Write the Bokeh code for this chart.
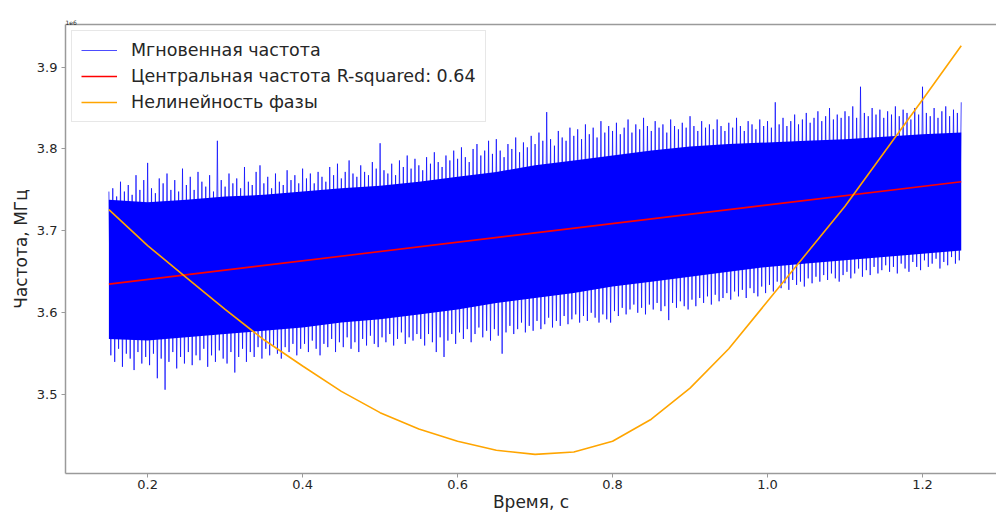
import numpy as np
from bokeh.plotting import figure
from bokeh.models import (Range1d, Legend, LegendItem, Title, FixedTicker,
                          PrintfTickFormatter, LinearAxis)
from bokeh.embed import file_html
from bokeh.resources import INLINE

# ---- data ----
# dense core of the instantaneous-frequency band
t_core = [0.15, 0.20, 0.25, 0.30, 0.35, 0.40, 0.45, 0.50, 0.55, 0.60, 0.65, 0.70,
          0.75, 0.80, 0.85, 0.90, 0.95, 1.00, 1.05, 1.10, 1.15, 1.20, 1.25]
core_upper = [3.738, 3.735, 3.738, 3.742, 3.744, 3.748, 3.752, 3.755, 3.760, 3.766, 3.772, 3.780,
              3.786, 3.792, 3.798, 3.803, 3.806, 3.808, 3.810, 3.812, 3.815, 3.818, 3.820]
core_lower = [3.568, 3.566, 3.570, 3.574, 3.578, 3.582, 3.588, 3.592, 3.598, 3.604, 3.612, 3.618,
              3.624, 3.632, 3.638, 3.644, 3.650, 3.656, 3.660, 3.664, 3.668, 3.672, 3.676]

# upward excursions of the instantaneous frequency (t = 0.150 ... 1.250, every 0.005 s)
freq_high = [
    3.748, 3.752, 3.742, 3.760, 3.748, 3.756, 3.744, 3.768, 3.750, 3.762,
    3.783, 3.752, 3.746, 3.764, 3.758, 3.770, 3.750, 3.762, 3.748, 3.776,
    3.756, 3.766, 3.750, 3.772, 3.760, 3.754, 3.768, 3.748, 3.810, 3.762,
    3.754, 3.770, 3.758, 3.764, 3.752, 3.778, 3.760, 3.756, 3.772, 3.780,
    3.758, 3.766, 3.752, 3.770, 3.760, 3.756, 3.774, 3.762, 3.768, 3.758,
    3.776, 3.764, 3.770, 3.758, 3.772, 3.766, 3.760, 3.778, 3.768, 3.782,
    3.764, 3.772, 3.786, 3.770, 3.766, 3.780, 3.772, 3.768, 3.784, 3.776,
    3.807, 3.774, 3.770, 3.782, 3.768, 3.786, 3.778, 3.792, 3.776, 3.788,
    3.780, 3.774, 3.790, 3.782, 3.796, 3.784, 3.778, 3.792, 3.786, 3.798,
    3.788, 3.802, 3.790, 3.784, 3.800, 3.806, 3.792, 3.798, 3.810, 3.794,
    3.812, 3.798, 3.790, 3.806, 3.800, 3.814, 3.796, 3.808, 3.802, 3.816,
    3.806, 3.820, 3.810, 3.845, 3.812, 3.804, 3.822, 3.814, 3.810, 3.826,
    3.816, 3.824, 3.812, 3.830, 3.818, 3.826, 3.814, 3.834, 3.820, 3.828,
    3.822, 3.832, 3.818, 3.826, 3.836, 3.820, 3.830, 3.824, 3.838, 3.828,
    3.822, 3.834, 3.826, 3.830, 3.820, 3.836, 3.828, 3.824, 3.832, 3.826,
    3.840, 3.828, 3.822, 3.834, 3.826, 3.830, 3.824, 3.836, 3.828, 3.822,
    3.832, 3.826, 3.838, 3.828, 3.822, 3.834, 3.830, 3.824, 3.836, 3.828,
    3.834, 3.826, 3.857, 3.830, 3.838, 3.828, 3.834, 3.842, 3.830, 3.836,
    3.844, 3.832, 3.838, 3.846, 3.834, 3.840, 3.850, 3.836, 3.842, 3.838,
    3.846, 3.840, 3.852, 3.838, 3.876, 3.844, 3.840, 3.850, 3.842, 3.848,
    3.838, 3.846, 3.842, 3.852, 3.840, 3.848, 3.844, 3.836, 3.850, 3.842,
    3.876, 3.844, 3.840, 3.850, 3.838, 3.846, 3.852, 3.840, 3.848, 3.844,
    3.857]
# downward excursions (t = 0.1525 ... 1.2475, every 0.005 s)
freq_low = [
    3.548, 3.540, 3.556, 3.534, 3.550, 3.544, 3.530, 3.552, 3.538, 3.546,
    3.536, 3.550, 3.520, 3.544, 3.506, 3.540, 3.552, 3.532, 3.546, 3.538,
    3.552, 3.536, 3.548, 3.542, 3.556, 3.534, 3.548, 3.540, 3.554, 3.544,
    3.538, 3.552, 3.527, 3.546, 3.556, 3.540, 3.552, 3.546, 3.558, 3.544,
    3.556, 3.548, 3.560, 3.550, 3.544, 3.558, 3.552, 3.562, 3.548, 3.556,
    3.562, 3.552, 3.566, 3.556, 3.548, 3.562, 3.558, 3.568, 3.552, 3.564,
    3.558, 3.570, 3.556, 3.564, 3.552, 3.568, 3.560, 3.572, 3.562, 3.558,
    3.570, 3.564, 3.574, 3.560, 3.568, 3.576, 3.562, 3.570, 3.566, 3.574,
    3.568, 3.560, 3.574, 3.564, 3.552, 3.570, 3.546, 3.566, 3.574, 3.562,
    3.576, 3.568, 3.580, 3.564, 3.574, 3.582, 3.570, 3.578, 3.566, 3.580,
    3.572, 3.550, 3.576, 3.584, 3.574, 3.580, 3.588, 3.576, 3.584, 3.578,
    3.590, 3.580, 3.586, 3.594, 3.582, 3.590, 3.584, 3.596, 3.586, 3.592,
    3.598, 3.588, 3.596, 3.590, 3.600, 3.594, 3.588, 3.598, 3.592, 3.588,
    3.602, 3.596, 3.606, 3.598, 3.604, 3.610, 3.600, 3.606, 3.598, 3.610,
    3.604, 3.612, 3.602, 3.608, 3.591, 3.612, 3.606, 3.614, 3.608, 3.604,
    3.616, 3.608, 3.618, 3.612, 3.620, 3.610, 3.622, 3.614, 3.618, 3.624,
    3.616, 3.626, 3.620, 3.628, 3.618, 3.630, 3.624, 3.620, 3.632, 3.624,
    3.634, 3.626, 3.638, 3.630, 3.636, 3.628, 3.640, 3.634, 3.638, 3.632,
    3.642, 3.636, 3.644, 3.638, 3.646, 3.640, 3.648, 3.642, 3.638, 3.646,
    3.650, 3.642, 3.648, 3.654, 3.644, 3.652, 3.646, 3.656, 3.648, 3.652,
    3.658, 3.650, 3.656, 3.648, 3.660, 3.654, 3.650, 3.662, 3.656, 3.652,
    3.664, 3.656, 3.660, 3.666, 3.654, 3.662, 3.658, 3.668, 3.660, 3.664]

# linear fit (central frequency)
t_fit = [0.15, 1.25]
freq_fit = [3.635, 3.760]

# phase nonlinearity
t_phase = [0.15, 0.20, 0.25, 0.30, 0.35, 0.40, 0.45, 0.50, 0.55, 0.60, 0.65, 0.70,
           0.75, 0.80, 0.85, 0.90, 0.95, 1.00, 1.05, 1.10, 1.15, 1.20, 1.25]
phase_nl = [3.726, 3.682, 3.643, 3.604, 3.567, 3.535, 3.504, 3.478, 3.458, 3.443, 3.432, 3.427,
            3.430, 3.443, 3.470, 3.508, 3.556, 3.614, 3.672, 3.730, 3.795, 3.860, 3.926]

x_ticks = [0.2, 0.4, 0.6, 0.8, 1.0, 1.2]
y_ticks = [3.5, 3.6, 3.7, 3.8, 3.9]

legend_labels = ["Мгновенная частота", "Центральная частота R-squared: 0.64", "Нелинейность фазы"]

FONT = "DejaVu Sans"
TXT = "#262626"
SPINE = "#9a9a9a"

# ---- figure ----
p = figure(width=996, height=514, output_backend="svg", toolbar_location=None,
           x_range=Range1d(0.094, 1.2955), y_range=Range1d(3.4037, 3.952),
           min_border_left=65, min_border_right=0, min_border_top=24, min_border_bottom=38,
           background_fill_color="white", border_fill_color="white")
p.grid.visible = False
p.outline_line_color = None

xax = p.below[0]
yax = p.left[0]

# interleave the high/low excursions into one noisy trace
t_high = np.linspace(t_core[0], t_core[-1], len(freq_high))
t_low = t_high[:-1] + 0.0025
n = min(len(freq_high), len(freq_low))
t_trace, f_trace = [], []
for i in range(n):
    t_trace += [t_high[i], t_low[i]]
    f_trace += [freq_high[i], freq_low[i]]
for i in range(n, len(freq_high)):
    t_trace.append(t_high[i])
    f_trace.append(freq_high[i])

p.varea(x=t_core, y1=core_lower, y2=core_upper, fill_color="blue", fill_alpha=1.0)
r_blue = p.line(t_trace, f_trace, line_color="blue", line_width=1, line_alpha=0.7)
r_red = p.line(t_fit, freq_fit, line_color="red", line_width=1.6)
r_orange = p.line(t_phase, phase_nl, line_color="orange", line_width=1.6)

# axes
for ax in (xax, yax):
    ax.axis_line_color = SPINE
    ax.axis_line_width = 1.5
    ax.major_tick_line_color = SPINE
    ax.major_tick_out = 4
    ax.major_tick_in = 0
    ax.minor_tick_line_color = None
    ax.major_label_text_font = FONT
    ax.major_label_text_font_size = "13px"
    ax.major_label_text_color = TXT
    ax.axis_label_text_font = FONT
    ax.axis_label_text_font_style = "normal"
    ax.axis_label_text_font_size = "17px"
    ax.axis_label_text_color = TXT
    ax.formatter = PrintfTickFormatter(format="%.1f")

xax.ticker = FixedTicker(ticks=x_ticks)
yax.ticker = FixedTicker(ticks=y_ticks)
xax.major_label_standoff = 2
xax.axis_label = "Время, с"
xax.axis_label_standoff = 0
yax.major_label_standoff = 4
yax.axis_label = "Частота, МГц"
yax.axis_label_standoff = 3

# top spine (the right spine lies beyond the picture's edge in the reference)
top_axis = LinearAxis(ticker=FixedTicker(ticks=[]), axis_line_color=SPINE, axis_line_width=1.5,
                      major_tick_line_color=None, minor_tick_line_color=None,
                      major_label_text_font_size="0px", major_tick_out=0, major_tick_in=0,
                      major_label_standoff=0)
p.add_layout(top_axis, "above")

# offset text at top-left corner
p.add_layout(Title(text="1e6", align="left", text_font=FONT, text_font_size="6px",
                   text_color=TXT, text_font_style="normal", standoff=0), "above")

legend = Legend(items=[LegendItem(label=legend_labels[0], renderers=[r_blue]),
                       LegendItem(label=legend_labels[1], renderers=[r_red]),
                       LegendItem(label=legend_labels[2], renderers=[r_orange])],
                location="top_left")
legend.margin = 6
legend.padding = 9
legend.spacing = 6
legend.glyph_width = 36
legend.glyph_height = 20
legend.label_height = 20
legend.label_standoff = 14
legend.label_text_font = FONT
legend.label_text_font_size = "17.5px"
legend.label_text_color = TXT
legend.border_line_color = "#d0d0d0"
legend.border_line_width = 1
legend.background_fill_color = "white"
legend.background_fill_alpha = 0.85
p.add_layout(legend)

open("out.html", "w").write(file_html(p, INLINE))
